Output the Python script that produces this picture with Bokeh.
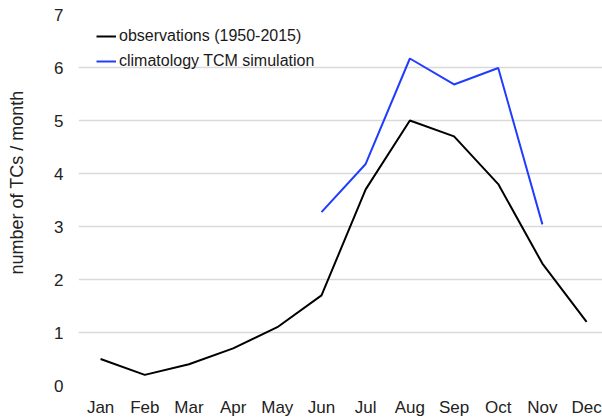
from bokeh.plotting import figure
from bokeh.models import Range1d, FixedTicker, Legend, LegendItem
from bokeh.embed import file_html
from bokeh.resources import INLINE

months = ["Jan", "Feb", "Mar", "Apr", "May", "Jun", "Jul", "Aug", "Sep", "Oct", "Nov", "Dec"]
obs = [0.5, 0.2, 0.4, 0.7, 1.1, 1.7, 3.7, 5.0, 4.7, 3.8, 2.3, 1.2]
sim_months = ["Jun", "Jul", "Aug", "Sep", "Oct", "Nov"]
sim = [3.27, 4.18, 6.17, 5.68, 5.99, 3.04]
y_ticks = [0, 1, 2, 3, 4, 5, 6, 7]

xi = list(range(len(months)))
sim_x = [months.index(m) for m in sim_months]

p = figure(width=602, height=419, output_backend="svg", toolbar_location=None,
           x_range=Range1d(-0.5, 11.36), y_range=Range1d(0, 7),
           min_border_left=78, min_border_right=0, min_border_top=14, min_border_bottom=33)
p.outline_line_color = None
p.background_fill_color = "white"

r1 = p.line(xi, obs, line_color="#000000", line_width=2)
r2 = p.line(sim_x, sim, line_color="#1f3cff", line_width=2)

p.xaxis.ticker = FixedTicker(ticks=xi)
p.xaxis.major_label_overrides = {i: m for i, m in enumerate(months)}
p.yaxis.ticker = FixedTicker(ticks=y_ticks)
for ax in (p.xaxis, p.yaxis):
    ax.axis_line_color = None
    ax.major_tick_line_color = None
    ax.minor_tick_line_color = None
    ax.major_tick_out = 0
    ax.major_tick_in = 0
    ax.major_label_text_font = "Liberation Sans"
    ax.major_label_text_font_size = "17px"
    ax.major_label_text_color = "#222222"
p.xaxis.major_label_standoff = 12
p.yaxis.major_label_standoff = 15

pad = "\u00a0" * 7
p.yaxis.axis_label = pad + "number of TCs / month"
p.yaxis.axis_label_text_font = "Liberation Sans"
p.yaxis.axis_label_text_font_size = "18px"
p.yaxis.axis_label_text_font_style = "normal"
p.yaxis.axis_label_text_color = "#222222"
p.yaxis.axis_label_standoff = 24

p.xgrid.grid_line_color = None
p.ygrid.grid_line_color = "#d9d9d9"
p.ygrid.grid_line_width = 1.5
p.ygrid.ticker = FixedTicker(ticks=y_ticks)

legend = Legend(items=[LegendItem(label="observations (1950-2015)", renderers=[r1]),
                       LegendItem(label="climatology TCM simulation", renderers=[r2])],
                location=(18, 314), padding=0, margin=0, spacing=5,
                glyph_width=20, glyph_height=20, label_height=20, label_standoff=3,
                label_text_font="Liberation Sans", label_text_font_size="16px",
                label_text_color="#1a1a1a", border_line_color=None,
                background_fill_alpha=0)
p.add_layout(legend)

open("out.html", "w").write(file_html(p, INLINE))
